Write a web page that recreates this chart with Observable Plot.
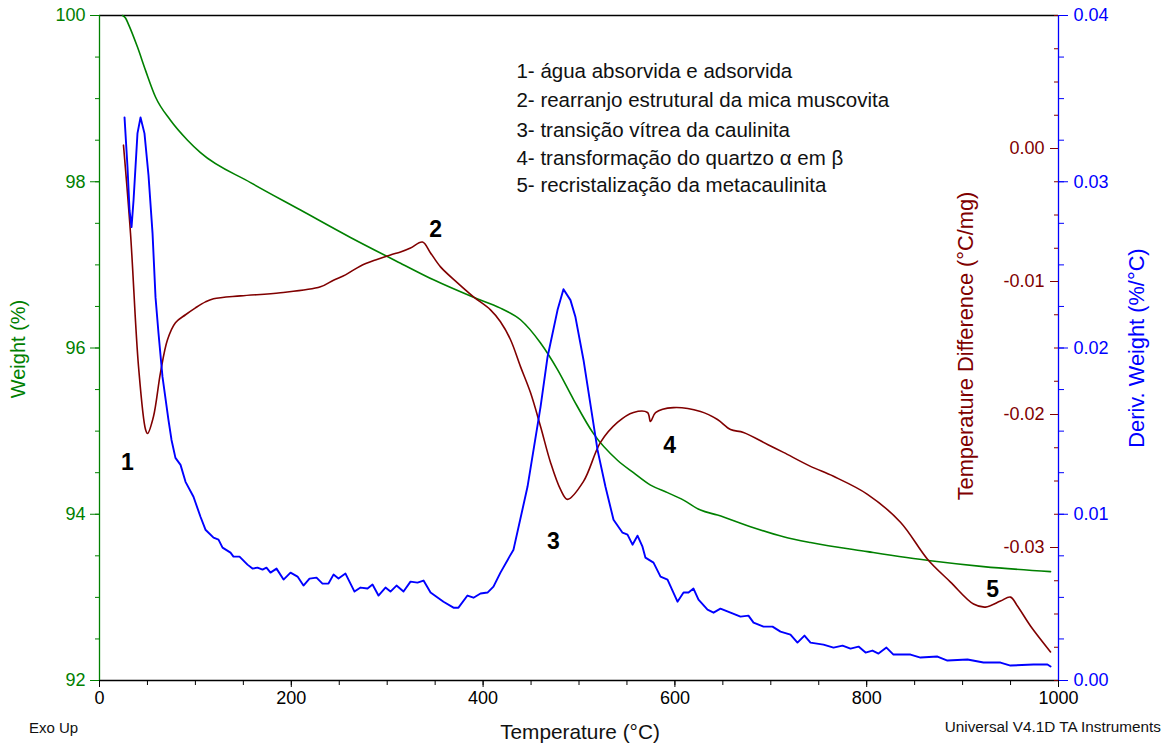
<!DOCTYPE html>
<html><head><meta charset="utf-8">
<script src="https://cdn.jsdelivr.net/npm/d3@7"></script>
<script src="https://cdn.jsdelivr.net/npm/@observablehq/plot@0.6"></script>
<style>
html,body{margin:0;padding:0;background:#fff;overflow:hidden;font-family:"Liberation Sans",Arial,sans-serif;}
#wrap{position:relative;width:1173px;height:745px;overflow:hidden}
.lbl{position:absolute;white-space:nowrap;transform:translate(-50%,-50%) rotate(-90deg);font-size:20px}
.txt{position:absolute;white-space:nowrap;font-size:15px;color:#111}
</style></head><body><div id="wrap"></div>
<script>
// ---- Weight (%) curve (green) ----
const weightT = [24.0,27.1,30.0,39.6,48.0,58.4,74.0,91.8,105.3,157.5,209.6,261.7,313.9,348.3,390.0,418.1,439.0,459.9,477.6,494.3,515.1,540.1,556.8,574.6,592.3,609.0,626.7,644.4,678.8,713.2,741.4,800.8,866.5,921.8,991.7];
const weightPct = [100.00,99.97,99.90,99.62,99.34,99.02,98.74,98.50,98.35,97.99,97.66,97.33,97.02,96.82,96.61,96.48,96.34,96.06,95.74,95.38,94.97,94.65,94.50,94.35,94.26,94.17,94.05,93.99,93.85,93.73,93.66,93.55,93.44,93.37,93.31];

// ---- Temperature Difference (°C/mg) curve (dark red) ----
const tdT = [25.0,32.3,40.7,48.0,50.1,56.3,63.6,70.9,79.2,89.7,100.1,110.5,118.9,147.0,188.7,230.4,244.0,256.5,272.2,287.8,303.4,313.9,324.3,336.8,345.2,355.6,373.3,390.0,407.7,418.1,428.6,439.0,449.4,459.9,470.3,480.7,488.0,504.7,522.4,540.1,556.8,571.4,574.6,579.8,598.5,626.7,644.4,658.0,671.5,696.6,713.2,741.4,765.4,800.8,835.2,863.4,887.4,911.4,923.9,939.5,949.9,957.2,970.8,991.7];
const tdVal = [0.00025,-0.00635,-0.01640,-0.02113,-0.02143,-0.02015,-0.01685,-0.01438,-0.01310,-0.01250,-0.01198,-0.01153,-0.01130,-0.01108,-0.01085,-0.01040,-0.00990,-0.00950,-0.00883,-0.00838,-0.00800,-0.00778,-0.00748,-0.00703,-0.00785,-0.00890,-0.01010,-0.01115,-0.01213,-0.01303,-0.01438,-0.01640,-0.01835,-0.02090,-0.02360,-0.02563,-0.02638,-0.02503,-0.02210,-0.02060,-0.01985,-0.01985,-0.02053,-0.01985,-0.01948,-0.01978,-0.02038,-0.02113,-0.02135,-0.02225,-0.02285,-0.02390,-0.02465,-0.02600,-0.02810,-0.03088,-0.03260,-0.03425,-0.03448,-0.03403,-0.03373,-0.03440,-0.03590,-0.03785];

// ---- Deriv. Weight (%/°C) curve (blue) ----
const dwT = [26.1,29.2,31.3,33.4,35.5,39.6,42.8,46.9,51.1,55.3,58.4,61.5,65.7,71.9,75.1,79.2,84.5,89.7,98.0,105.3,110.5,118.9,124.1,128.3,136.6,139.7,146.0,154.3,159.5,164.8,170.0,174.1,178.3,184.6,191.9,199.2,206.5,212.7,219.0,226.3,232.5,238.8,244.0,249.2,256.5,265.9,272.2,279.5,284.7,290.9,298.2,303.4,309.7,317.0,324.3,331.6,337.9,345.2,358.7,369.1,374.3,383.7,390.0,397.3,404.6,410.8,418.1,427.5,431.7,446.3,459.9,467.2,477.6,483.8,491.1,496.3,504.7,512.0,519.3,527.6,536.0,545.4,550.6,555.8,561.0,566.2,569.3,577.7,585.0,592.3,602.7,609.0,614.2,619.4,624.6,634.0,640.3,647.5,658.0,668.4,676.7,682.0,692.4,701.8,710.1,720.5,727.8,735.1,741.4,754.9,765.4,774.8,783.1,791.5,798.8,806.0,812.3,820.6,827.9,845.7,856.1,873.8,884.2,905.1,921.8,939.5,949.9,973.9,988.5,991.7];
const dwVal = [0.03387,0.03087,0.02829,0.02727,0.02889,0.03291,0.03387,0.03291,0.03039,0.02691,0.02306,0.02090,0.01826,0.01568,0.01447,0.01339,0.01297,0.01195,0.01105,0.00985,0.00907,0.00859,0.00847,0.00799,0.00769,0.00745,0.00745,0.00697,0.00673,0.00679,0.00667,0.00679,0.00649,0.00673,0.00607,0.00649,0.00625,0.00571,0.00613,0.00619,0.00583,0.00583,0.00637,0.00613,0.00643,0.00535,0.00559,0.00553,0.00577,0.00511,0.00559,0.00535,0.00571,0.00535,0.00595,0.00589,0.00601,0.00529,0.00474,0.00438,0.00438,0.00511,0.00498,0.00523,0.00529,0.00565,0.00649,0.00745,0.00787,0.01165,0.01646,0.01946,0.02228,0.02354,0.02288,0.02186,0.01928,0.01658,0.01387,0.01165,0.00967,0.00889,0.00877,0.00817,0.00871,0.00805,0.00739,0.00709,0.00625,0.00607,0.00474,0.00529,0.00529,0.00553,0.00486,0.00426,0.00408,0.00432,0.00408,0.00384,0.00390,0.00348,0.00324,0.00324,0.00294,0.00276,0.00228,0.00270,0.00228,0.00216,0.00198,0.00210,0.00192,0.00204,0.00168,0.00180,0.00162,0.00198,0.00156,0.00156,0.00138,0.00144,0.00120,0.00126,0.00108,0.00108,0.00090,0.00096,0.00096,0.00084];

// ---- Ticks ----
const xTicks = [0,200,400,600,800,1000];
const xMinor = d3.range(0,1001,50);
const weightTicks = [92,94,96,98,100];
const weightMinor = d3.range(92,100.001,0.5);
const dwTicks = [0,0.01,0.02,0.03,0.04];
const dwMinor = d3.range(0,0.04001,0.0025);
const tdTicks = [-0.03,-0.02,-0.01,0.00];
const tdMinor = d3.range(-0.04,0.01001,0.0025);

// ---- Annotations ----
const peakLabels = ["1","2","3","4","5"];
const peakT = [29.2,350.4,473.4,594.4,931.2];
const peakW = [94.62,97.43,93.67,94.83,93.09];
const noteLines = ["1- água absorvida e adsorvida","2- rearranjo estrutural da mica muscovita","3- transição vítrea da caulinita","4- transformação do quartzo α em β","5- recristalização da metacaulinita"];
const noteW = [99.33,98.98,98.62,98.28,97.95];
const noteT = 434.8;

const GREEN = "#008000", RED = "#800000", BLUE = "#0000ff";
const W = 1173, H = 745, ML = 99, MR = 115, MT = 15, MB = 65;
const font = '"Liberation Sans", Arial, sans-serif';
const baseStyle = {position:"absolute", left:"0px", top:"0px", background:"transparent", fontFamily:font, fontSize:"17.5px", overflow:"visible"};

const weightData = weightT.map((t,i)=>({t, v:weightPct[i]}));
const tdData = tdT.map((t,i)=>({t, v:tdVal[i]}));
const dwData = dwT.map((t,i)=>({t, v:dwVal[i]}));

const wrap = document.getElementById("wrap");

// Green plot (weight) with frame, x axis and annotations
const p1 = Plot.plot({
  width: W, height: H, marginLeft: ML, marginRight: MR, marginTop: MT, marginBottom: MB,
  style: baseStyle,
  x: {domain: [0,1000]},
  y: {domain: [92,100]},
  marks: [
    Plot.ruleY([100], {stroke: "black", strokeWidth: 1.3}),
    Plot.ruleY([92], {stroke: "black", strokeWidth: 1.3}),
    Plot.ruleX([0], {stroke: GREEN, strokeWidth: 1.3}),
    Plot.axisX({ticks: xMinor, tickSize: 5, tickFormat: () => "", label: null, color: "black"}),
    Plot.axisX({ticks: xTicks, tickSize: 7, tickPadding: 4, tickFormat: d => String(d), label: null, color: "black", fontSize: 18}),
    Plot.axisY({ticks: weightMinor, tickSize: 4, tickFormat: () => "", label: null, color: GREEN}),
    Plot.axisY({ticks: weightTicks, tickSize: 9, tickPadding: 5, tickFormat: d => String(d), label: null, color: GREEN, fontSize: 18}),
    Plot.line(weightData, {x: "t", y: "v", stroke: GREEN, strokeWidth: 1.6, curve: "monotone-x"}),
    Plot.text(peakLabels, {x: (d,i) => peakT[i], y: (d,i) => peakW[i], text: d => d, fontSize: 23, fontWeight: "bold", fill: "black"}),
    Plot.text(noteLines, {x: () => noteT, y: (d,i) => noteW[i], text: d => d, textAnchor: "start", fontSize: 20.5, fill: "#111"})
  ]
});
wrap.appendChild(p1);

// Red plot (temperature difference)
const p2 = Plot.plot({
  width: W, height: H, marginLeft: ML, marginRight: MR, marginTop: MT, marginBottom: MB,
  style: baseStyle,
  x: {domain: [0,1000], axis: null},
  y: {domain: [-0.04,0.01], axis: null},
  marks: [
    Plot.line(tdData, {x: "t", y: "v", stroke: RED, strokeWidth: 1.6, curve: "catmull-rom"})
  ]
});
wrap.appendChild(p2);

// Blue plot (deriv. weight) with right axis
const p3 = Plot.plot({
  width: W, height: H, marginLeft: ML, marginRight: MR, marginTop: MT, marginBottom: MB,
  style: baseStyle,
  x: {domain: [0,1000], axis: null},
  y: {domain: [0,0.04], axis: null},
  marks: [
    Plot.ruleX([1000], {stroke: BLUE, strokeWidth: 1.3}),
    Plot.axisY({anchor: "right", ticks: dwMinor, tickSize: 5, tickFormat: () => "", label: null, color: BLUE}),
    Plot.axisY({anchor: "right", ticks: dwTicks, tickSize: 9, tickPadding: 6, tickFormat: d => d.toFixed(2), label: null, color: BLUE, fontSize: 18}),
    Plot.line(dwData, {x: "t", y: "v", stroke: BLUE, strokeWidth: 1.9, curve: "linear"})
  ]
});
wrap.appendChild(p3);

// Red axis (ticks pointing left from the right frame edge)
const p4 = Plot.plot({
  width: W, height: H, marginLeft: W - MR, marginRight: MR - 1, marginTop: MT, marginBottom: MB,
  style: baseStyle,
  y: {domain: [-0.04,0.01], axis: null},
  marks: [
    Plot.axisY({anchor: "left", ticks: tdMinor, tickSize: 4, tickFormat: () => "", label: null, color: RED}),
    Plot.axisY({anchor: "left", ticks: tdTicks, tickSize: 8, tickPadding: 6, tickFormat: d => (Math.abs(d) < 1e-9 ? 0 : d).toFixed(2), label: null, color: RED, fontSize: 18})
  ]
});
wrap.appendChild(p4);

// Axis titles and footer texts
function addDiv(cls, text, css) {
  const d = document.createElement("div");
  d.className = cls; d.textContent = text;
  Object.assign(d.style, css);
  wrap.appendChild(d);
}
addDiv("lbl", "Weight (%)", {left: "18px", top: "349px", color: GREEN});
addDiv("lbl", "Temperature Difference (°C/mg)", {left: "966px", top: "346px", color: RED, fontSize: "21.8px"});
addDiv("lbl", "Deriv. Weight (%/°C)", {left: "1137px", top: "348px", color: BLUE, fontSize: "21.8px"});
addDiv("txt", "Temperature (°C)", {left: "580px", top: "732px", fontSize: "20.8px", transform: "translate(-50%,-50%)"});
addDiv("txt", "Exo Up", {left: "29px", top: "727px", transform: "translate(0,-50%)"});
addDiv("txt", "Universal V4.1D TA Instruments", {right: "12px", top: "727px", fontSize: "15.3px", transform: "translate(0,-50%)"});
</script>
</body></html>
